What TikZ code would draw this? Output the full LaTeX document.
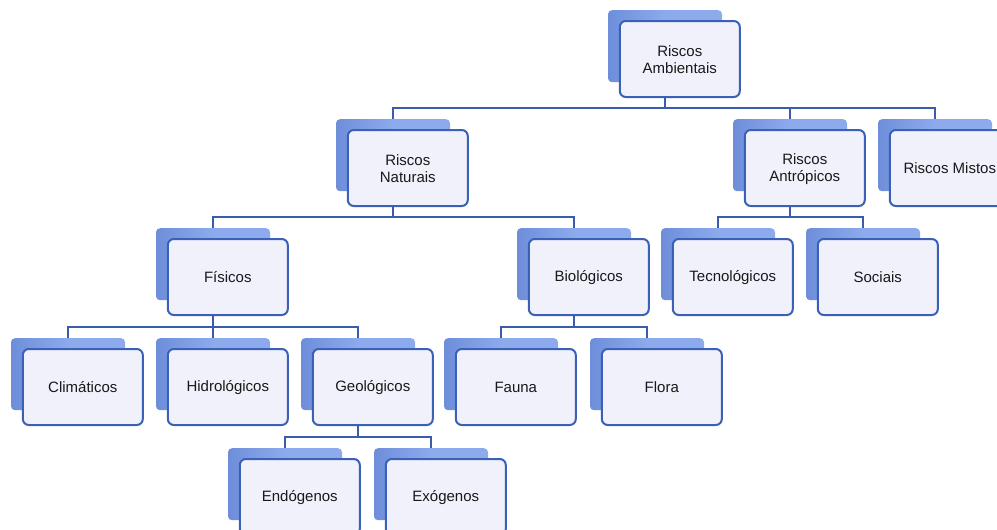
\documentclass[tikz,border=0pt]{standalone}
\usepackage{fontspec}
\setmainfont{Liberation Sans}
\usetikzlibrary{backgrounds}
\definecolor{backblue}{RGB}{140,170,236}
\definecolor{backdark}{RGB}{110,142,218}
\definecolor{frontline}{RGB}{58,96,184}
\definecolor{frontfill}{RGB}{240,241,250}
\definecolor{connblue}{RGB}{58,92,172}
\definecolor{txt}{RGB}{25,25,25}
\newcommand{\ms}{\rule[-2pt]{0pt}{15pt}}
\tikzset{
  backbox/.style={shape=rectangle, rounded corners=4pt, left color=backdark, right color=backblue, middle color=backblue, draw=none,
    minimum width=114pt, minimum height=72pt, inner sep=0pt, anchor=north},
  frontbox/.style={shape=rectangle, rounded corners=6pt, fill=frontfill, draw=frontline, line width=2pt,
    minimum width=120pt, minimum height=76pt, inner sep=0pt, anchor=north west, align=center,
    font=\fontsize{15}{17}\selectfont, text=txt},
  conn/.style={draw=connblue, line width=2.3pt}
}
\newcommand{\stackbox}[4]{%
  \node[backbox] (#1b) at (#2,#3) {};
  \node[frontbox] (#1) at ([xshift=11pt,yshift=-10pt]#1b.north west) {#4};
}
\begin{document}
\begin{tikzpicture}[x=1pt,y=-1pt]
\useasboundingbox (0,0) rectangle (997,530);
\coordinate (bar1) at (0,108);
\coordinate (bar2) at (0,217);
\coordinate (bar3) at (0,327);
\coordinate (bar4) at (0,437);
% level 1
\stackbox{amb}{665}{10}{\ms Riscos\\\ms Ambientais}
% level 2
\stackbox{nat}{393}{119}{\ms Riscos\\\ms Naturais}
\stackbox{ant}{790}{119}{\ms Riscos\\\ms Antrópicos}
\stackbox{mis}{935}{119}{\ms Riscos Mistos}
% level 3
\stackbox{fis}{213}{228}{\ms Físicos}
\stackbox{bio}{574}{228}{\ms Biológicos}
\stackbox{tec}{718}{228}{\ms Tecnológicos}
\stackbox{soc}{863}{228}{\ms Sociais}
% level 4
\stackbox{cli}{68}{338}{\ms Climáticos}
\stackbox{hid}{213}{338}{\ms Hidrológicos}
\stackbox{geo}{358}{338}{\ms Geológicos}
\stackbox{fau}{501}{338}{\ms Fauna}
\stackbox{flo}{647}{338}{\ms Flora}
% level 5
\stackbox{end}{285}{448}{\ms Endógenos}
\stackbox{exo}{431}{448}{\ms Exógenos}
\begin{scope}[on background layer]
\foreach \c in {nat,ant,mis}
  \draw[conn] (ambb.center) -- (ambb.center |- bar1) -| (\c b.center);
\foreach \c in {fis,bio}
  \draw[conn] (natb.center) -- (natb.center |- bar2) -| (\c b.center);
\foreach \c in {tec,soc}
  \draw[conn] (antb.center) -- (antb.center |- bar2) -| (\c b.center);
\foreach \c in {cli,hid,geo}
  \draw[conn] (fisb.center) -- (fisb.center |- bar3) -| (\c b.center);
\foreach \c in {fau,flo}
  \draw[conn] (biob.center) -- (biob.center |- bar3) -| (\c b.center);
\foreach \c in {end,exo}
  \draw[conn] (geob.center) -- (geob.center |- bar4) -| (\c b.center);
\end{scope}
\end{tikzpicture}
\end{document}
